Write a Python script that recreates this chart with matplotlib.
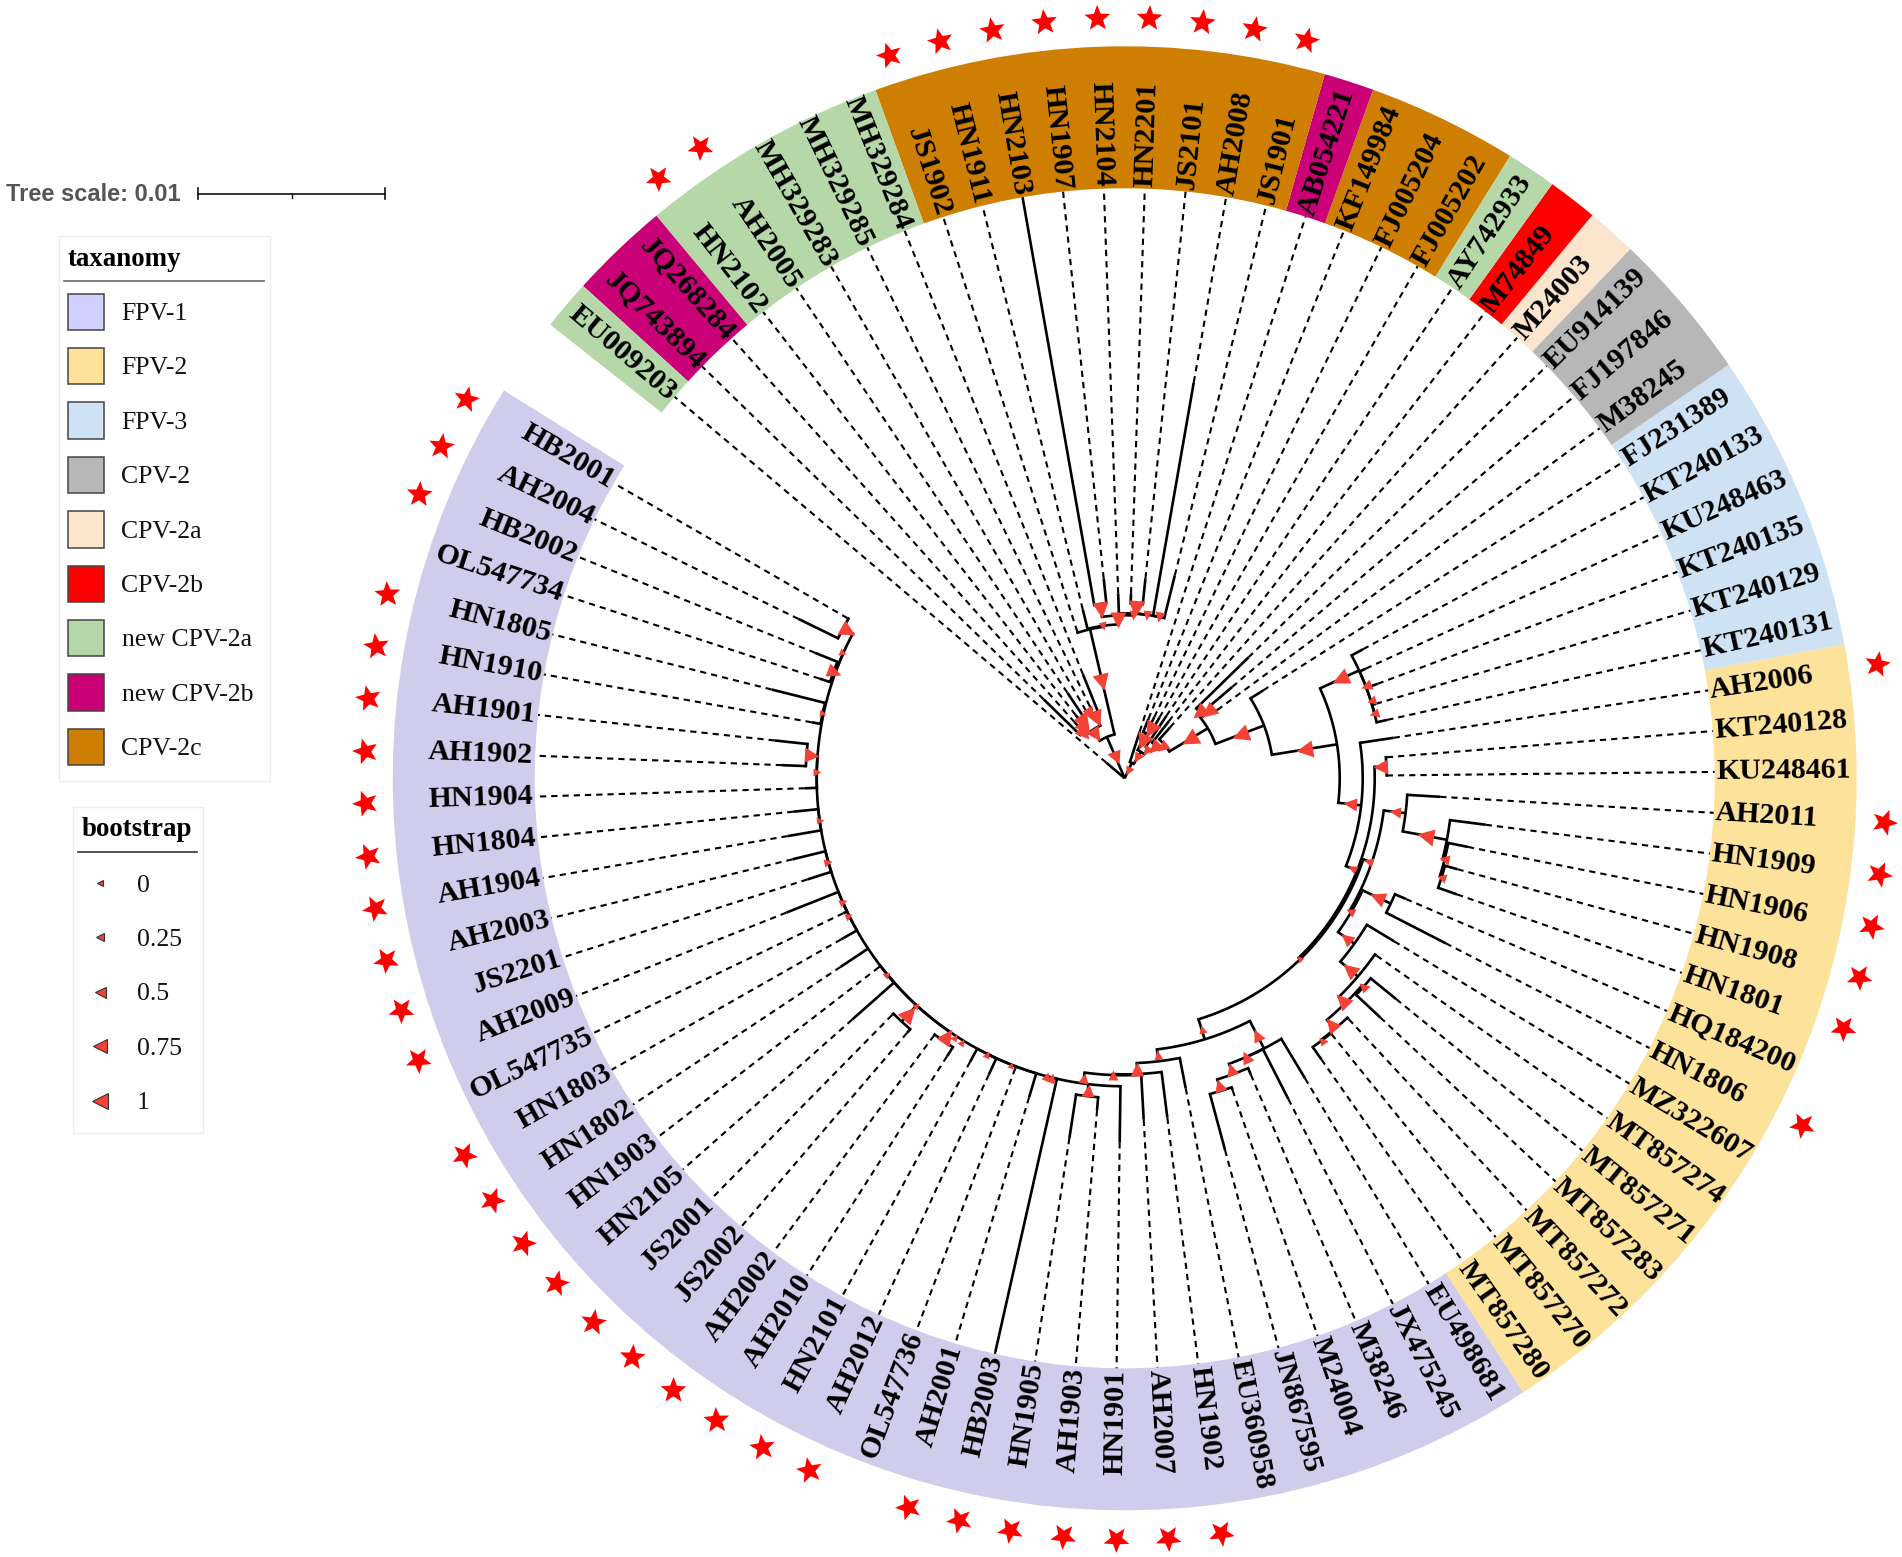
import numpy as np
import matplotlib
matplotlib.use("Agg")
import matplotlib.pyplot as plt
from matplotlib.markers import MarkerStyle
from matplotlib.patches import Rectangle
from matplotlib.path import Path
from matplotlib.transforms import Affine2D

W, H = 1902, 1557
CX, CY = 1124.7, 778.3
RMAX = 777

# leaves in ring order, counter clockwise from the gap at upper left
LEAF_NAMES = ["HB2001", "AH2004", "HB2002", "OL547734", "HN1805", "HN1910", "AH1901", "AH1902", "HN1904",
              "HN1804", "AH1904", "AH2003", "JS2201", "AH2009", "OL547735", "HN1803", "HN1802", "HN1903",
              "HN2105", "JS2001", "JS2002", "AH2002", "AH2010", "HN2101", "AH2012", "OL547736", "AH2001",
              "HB2003", "HN1905", "AH1903", "HN1901", "AH2007", "HN1902", "EU360958", "JN867595", "M24004",
              "M38246", "JX475245", "EU498681", "MT857280", "MT857270", "MT857272", "MT857283", "MT857271",
              "MT857274", "MZ322607", "HN1806", "HQ184200", "HN1801", "HN1908", "HN1906", "HN1909", "AH2011",
              "KU248461", "KT240128", "AH2006", "KT240131", "KT240129", "KT240135", "KU248463", "KT240133",
              "FJ231389", "M38245", "FJ197846", "EU914139", "M24003", "M74849", "AY742933", "FJ005202",
              "FJ005204", "KF149984", "AB054221", "JS1901", "AH2008", "JS2101", "HN2201", "HN2104", "HN1907",
              "HN2103", "HN1911", "JS1902", "MH329284", "MH329285", "MH329283", "AH2005", "HN2102",
              "JQ268284", "JQ743894", "EU009203"]

# radius (pixels from the root) where the solid part of each leaf branch stops
LEAF_TIPS = [320, 363, 334, 321, 364, 318, 352, 343, 320, 333, 342, 342, 333, 364, 312, 326, 341, 310, 364, 332,
             335, 320, 330, 323, 326, 310, 333, 588, 364, 333, 364, 342, 342, 316, 385, 330, 322, 360, 350, 343,
             329, 329, 350, 350, 308, 315, 361, 306, 352, 345, 350, 364, 316, 262, 263, 272, 269, 262, 270, 265,
             271, 164, 115, 141, 173, 68, 72, 75, 70, 68, 64, 49, 209, 402, 201, 185, 185, 201, 590, 174, 154,
             112, 80, 78, 103, 80, 75, 113, 24]

# ring groups: first leaf, number of leaves, colour
GROUP_START = [0, 39, 56, 62, 65, 66, 67, 68, 71, 72, 81, 86, 88]
GROUP_COUNT = [39, 17, 6, 3, 1, 1, 1, 3, 1, 9, 5, 2, 1]
GROUP_COLOR = ["#d0cceb", "#fde29b", "#cfe2f3", "#b7b7b7", "#fce5cd", "#ff0000", "#b6d7a8", "#ce7e00",
               "#c90076", "#ce7e00", "#b6d7a8", "#c90076", "#b6d7a8"]

STAR_LEAVES = [0, 1, 2] + list(range(4, 14)) + list(range(15, 25)) + list(range(26, 33)) \
    + [46, 48, 49, 50, 51, 52, 55] + list(range(72, 81)) + [84, 85]

LEGEND_NAMES = ["FPV-1", "FPV-2", "FPV-3", "CPV-2", "CPV-2a", "CPV-2b", "new CPV-2a", "new CPV-2b", "CPV-2c"]
LEGEND_COLORS = ["#d0d0ff", "#ffe299", "#cfe2f3", "#b7b7b7", "#fce5cd", "#ff0000", "#b6d7a8", "#c90076", "#ce7e00"]
BOOT_LABELS = ["0", "0.25", "0.5", "0.75", "1"]
BOOT_VALUES = [0, 0.25, 0.5, 0.75, 1]

# tree nodes: (radius, support, children[, angle]); a string child is a leaf
# left side of the backbone
A = (319, .9, ["HB2001", "AH2004"])
B = (310, .8, ["HB2002", "OL547734"])
C = (308, .1, [A, B])
D = (309, .1, ["HN1805", "HN1910"])
E = (319, .8, ["AH1901", "AH1902"])
F = (308, .12, [E, "HN1904"])
G = (308, .1, ["HN1804", "AH1904"])
H_ = (308, .15, ["AH2003", "JS2201"])
I = (308, .15, ["AH2009", "OL547735"])
J = (308, .1, [I, "HN1803"])
K = (308, .12, ["HN1903", "HN2105"])
JSP = (330, 1, ["JS2001", "JS2002"])
AHP = (319, .9, ["AH2002", "AH2010"])
M = (308, .05, [K, JSP, AHP])
N = (308, .12, ["HN2101", "AH2012"])
S2 = (308, .08, [N, "OL547736", "AH2001"])
BIG = (308, None, [C, D, F, G, H_, J, "HN1802", M, S2], 253.3)
VV = (308, .3, [BIG, "HB2003"])
TT = (320, .6, ["HN1905", "AH1903"])
RR = (308, .35, [VV, TT, "HN1901"])
QQ = (297, .35, [RR, "AH2007"])
PP = (296, .75, [QQ, "HN1902"])
OO = (285, .35, [PP, "EU360958"])

# lower right clades
NN = (327, .6, ["JN867595", "M24004"])
LL = (315, .6, [NN, "M38246"])
KK2 = (304, .6, [LL, "JX475245"])
KK = (304, .6, [KK2, "EU498681"])
JJ = (273, .2, [OO, KK])
II = (328, .25, ["MT857280", "MT857270"])
HH = (327, .8, [II, "MT857272"])
FF2 = (317, .3, ["MT857283", "MT857271"])
FF = (315, .9, [HH, FF2])
EE = (306, .9, [FF, "MT857274"])
BB = (283, .6, [EE, "MZ322607"])
CC = (294, .8, ["HN1806", "HQ184200"])
DD = (263, .3, [BB, CC])
AD = (332, .3, ["HN1801", "HN1908"])
AC = (330, .4, [AD, "HN1906"])
AB = (328, 1, [AC, "HN1909"])
AA = (283, .5, [AB, "AH2011"])
Z = (261, .3, [DD, AA])
Y = (252, .05, [JJ, Z])
KUP = (262, .8, ["KU248461", "KT240128"])
W2 = (250, .25, [Y, KUP])
W_ = (238, .65, [W2, "AH2006"])
V4 = (258, .3, ["KT240131", "KT240129"])
V3 = (258, .3, [V4, "KT240135"])
V2 = (258, .5, [V3, "KU248463"])
V = (258, 1, [V2, "KT240133"])
U = (215, 1, [W_, V])
T = (149, 1, [U, "FJ231389"])
S1 = (112, .9, ["M38245", "FJ197846"])
S = (100, .9, [S1, "EU914139"])
R = (97, 1, [T, S])
P = (52, .5, [R, "M24003"])
EP = (45, .7, [P, "M74849"])
DP = (38, .4, [EP, "AY742933"])
AF = (60, .9, ["FJ005202", "FJ005204"])
BF = (50, .9, [AF, "KF149984"])
N2 = (31, .4, [DP, BF])
N1 = (17, .3, [N2, "AB054221"])

# top clades
GA = (165, .3, ["JS1901", "AH2008"])
FA = (175, 1, ["JS2101", "HN2201"])
HA = (165, .3, [GA, FA])
XA = (165, .3, [HA, "HN2104"])
D1 = (176, .9, ["HN1907", "HN2103"])
KA = (163, .9, [XA, D1])
KB = (154, .2, [KA, "HN1911"])
MA = (153, 1, [KB, "JS1902"])
C3 = (76, .5, ["MH329285", "MH329283"])
C2 = (72, .9, ["MH329284", C3])
C7 = (72, .9, ["AH2005", "HN2102"])
C6 = (66, .9, [C7, "JQ268284"])
C5 = (62, .8, [C6, "JQ743894"])
C1 = (58, .8, [C2, C5])
XT = (45, .7, [MA, C1])
ROOT = (0, None, [N1, XT, "EU009203"])

# small triangles on the backbone that have no clear branch of their own
EXTRA_ANGLE = [236.7, 238.4, 256.3]
EXTRA_RADIUS = [309, 310, 308]
EXTRA_SUPPORT = [.1, .1, .3]

LINE_R_END = 590
RING_R0, RING_R1 = 590, 732
STAR_R = 760.5
LABEL_R = 592
GAP_START = 148.0
STEP = (360 - 6.3) / len(LEAF_NAMES)
TRI_COLOR = "#f44336"
SOLID_LW = 1.9


def leaf_angle(i):
    return GAP_START + STEP * (i + 0.5)


def tri_points(s):
    return (6 + 11 * s) * 0.72


def star_path(inner=0.43):
    ang = np.deg2rad(90 + 36 * np.arange(10))
    rad = np.where(np.arange(10) % 2 == 0, 1.0, inner)
    verts = np.column_stack([rad * np.cos(ang), rad * np.sin(ang)])
    return Path(np.vstack([verts, verts[:1]]), closed=True)


def draw_triangle(ax, deg, r, s):
    m = MarkerStyle("<", transform=Affine2D().rotate_deg(deg))
    ax.plot([np.deg2rad(deg)], [r], marker=m, ms=tri_points(s), color=TRI_COLOR, mec="none",
            zorder=5, clip_on=False)


def spoke(ax, deg, r0, r1):
    t = np.deg2rad(deg)
    ax.plot([t, t], [r0, r1], color="black", lw=SOLID_LW, solid_capstyle="butt", zorder=3)


def layout(node, parent_r, ax):
    # returns the angle of the node after drawing what hangs below it
    angles = []
    for child in node[2]:
        if isinstance(child, str):
            i = LEAF_NAMES.index(child)
            a = leaf_angle(i)
            spoke(ax, a, node[0], LEAF_TIPS[i])
            angles.append(a)
        else:
            angles.append(layout(child, node[0], ax))
    here = node[3] if len(node) > 3 else (angles[0] + angles[-1]) / 2
    lo, hi = min(angles + [here]), max(angles + [here])
    th = np.deg2rad(np.linspace(lo, hi, 60))
    ax.plot(th, np.full(60, node[0]), color="black", lw=SOLID_LW, solid_capstyle="projecting", zorder=3)
    if parent_r is not None:
        spoke(ax, here, parent_r, node[0])
        if node[1] is not None:
            draw_triangle(ax, here, (parent_r + node[0]) / 2, node[1])
    return here


def main():
    plt.rcParams["font.family"] = ["Liberation Serif", "DejaVu Serif"]
    fig = plt.figure(figsize=(W / 100, H / 100), dpi=100, facecolor="white")

    # legends live in a plain pixel axes
    lg = fig.add_axes([0, 0, 1, 1])
    lg.set_xlim(0, W)
    lg.set_ylim(H, 0)
    lg.axis("off")

    lg.text(6, 194.5, "Tree scale: 0.01", family="Liberation Sans", weight="bold", fontsize=17.0,
            color="#555555", va="center", ha="left")
    lg.plot([198, 385], [193.7, 193.7], color="#111111", lw=1.2)
    lg.plot([198, 198], [188, 199], color="#111111", lw=1.2)
    lg.plot([385, 385], [188, 199], color="#111111", lw=1.2)
    lg.plot([291.5, 291.5], [193.7, 197.5], color="#111111", lw=1.0)

    lg.add_patch(Rectangle((58.5, 235.5), 211, 545, fc="white", ec="#eeeeee", lw=1))
    lg.text(68, 259, "taxanomy", weight="bold", fontsize=19.4, va="center", ha="left", color="black")
    lg.plot([64, 264], [281, 281], color="#666666", lw=1.2)
    for k, (name, col) in enumerate(zip(LEGEND_NAMES, LEGEND_COLORS)):
        y0 = 293.5 + 54.4 * k
        lg.add_patch(Rectangle((67.5, y0), 36.5, 36.5, fc=col, ec="#444444", lw=1.1))
        lg.text(121.5, y0 + 20.5, name, fontsize=18.5, va="center", ha="left", color="#111111")

    lg.add_patch(Rectangle((72.5, 806.5), 130, 326.5, fc="white", ec="#eeeeee", lw=1))
    lg.text(137, 829, "bootstrap", weight="bold", fontsize=19.4, va="center", ha="center", color="black")
    lg.plot([78, 197], [852, 852], color="#333333", lw=1.2)
    for k, (lab, val) in enumerate(zip(BOOT_LABELS, BOOT_VALUES)):
        y0 = 883 + 54.4 * k
        lg.plot([100], [y0], marker="<", ms=(6 + 10 * val) * 0.72, color=TRI_COLOR, mec="#333333", mew=0.8)
        lg.text(136.5, y0 + 2.5, lab, fontsize=18.5, va="center", ha="left", color="#111111")

    # the tree is in a polar axes with radius in pixels
    ax = fig.add_axes([(CX - RMAX) / W, (H - CY - RMAX) / H, 2 * RMAX / W, 2 * RMAX / H], polar=True)
    ax.patch.set_alpha(0)
    ax.set_ylim(0, RMAX)
    ax.axis("off")

    for start, count, col in zip(GROUP_START, GROUP_COUNT, GROUP_COLOR):
        mid = GAP_START + STEP * (start + count / 2)
        ax.bar(np.deg2rad(mid), RING_R1 - RING_R0, width=np.deg2rad(STEP * count), bottom=RING_R0,
               color=col, linewidth=0, zorder=1)

    for i, name in enumerate(LEAF_NAMES):
        a = leaf_angle(i)
        t = np.deg2rad(a)
        if LEAF_TIPS[i] < LINE_R_END:
            ax.plot([t, t], [LEAF_TIPS[i], LINE_R_END], color="black", lw=1.5,
                    linestyle=(0, (3.0, 2.4)), dash_capstyle="butt", zorder=2)
        if np.cos(t) >= 0:
            rot, ha = (a + 180) % 360 - 180, "left"
        else:
            rot, ha = (a - 180 + 180) % 360 - 180, "right"
        ax.text(t, LABEL_R, name, rotation=rot, rotation_mode="anchor", ha=ha, va="center",
                weight="bold", fontsize=21.6, color="black", zorder=4)

    star = star_path()
    for i in STAR_LEAVES:
        a = leaf_angle(i)
        m = MarkerStyle(star, transform=Affine2D().rotate_deg(a - 90))
        ax.plot([np.deg2rad(a + 0.1)], [STAR_R], marker=m, ms=19.5, color="#ff0000", mec="none",
                clip_on=False, zorder=3)

    layout(ROOT, None, ax)
    for a, r, s in zip(EXTRA_ANGLE, EXTRA_RADIUS, EXTRA_SUPPORT):
        draw_triangle(ax, a, r, s)

    fig.savefig("out.png", dpi=100)


if __name__ == "__main__":
    main()
